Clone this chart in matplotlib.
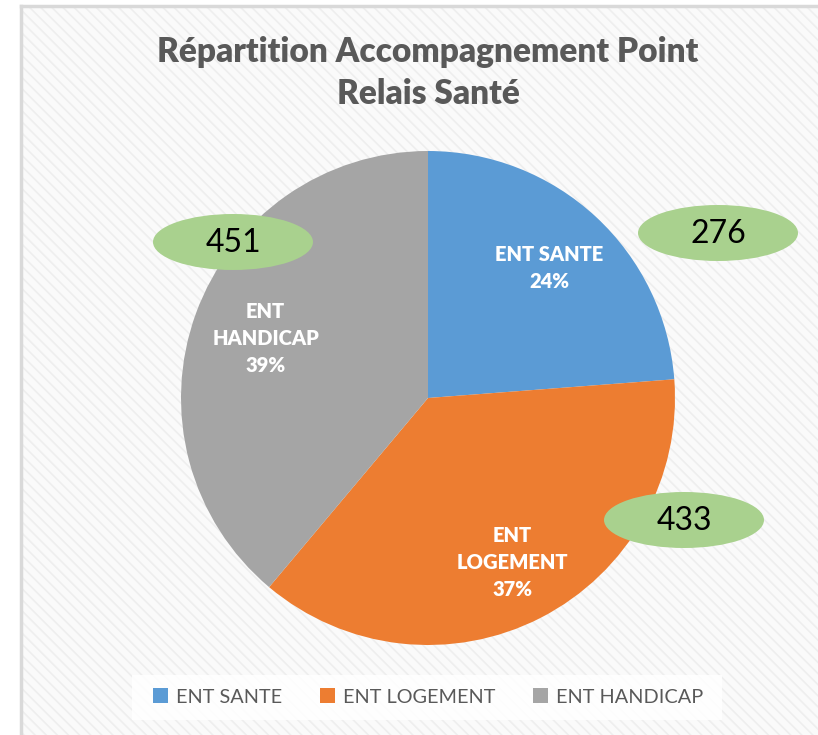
import matplotlib
matplotlib.use("Agg")
import matplotlib.pyplot as plt
from matplotlib.patches import Ellipse, Rectangle
import numpy as np

# ---- data ----
categories = ["ENT SANTE", "ENT LOGEMENT", "ENT HANDICAP"]
slice_labels = ["ENT SANTE", "ENT\nLOGEMENT", "ENT\nHANDICAP"]
values = [276, 433, 451]
colors = ["#5B9BD5", "#ED7D31", "#A5A5A5"]
title = "Répartition Accompagnement Point\nRelais Santé"

# layout (pixel positions of the moved value callouts)
callout_pos = [(718, 233), (684, 520), (233, 242)]

W, H = 818, 735
plt.rcParams['font.family'] = ['Lato', 'DejaVu Sans']
plt.rcParams['hatch.linewidth'] = 1.2
plt.rcParams['hatch.color'] = '#eeeeee'

fig = plt.figure(figsize=(W / 100, H / 100), dpi=100)
fig.patch.set_facecolor('white')
ax = fig.add_axes([0, 0, 1, 1])

def Y(y):
    return H - y

# chart area background with subtle hatch
ax.add_patch(Rectangle((21, -10), W, Y(6) + 10, facecolor='#fafafa',
                       edgecolor='#eeeeee', hatch='\\\\\\', linewidth=0, zorder=0))
ax.plot([21, W + 5], [Y(6), Y(6)], color='#d9d9d9', lw=2.5, zorder=1)
ax.plot([21, 21], [Y(6), -5], color='#d9d9d9', lw=2.5, zorder=1)

cx, cy, r = 428, Y(398), 247
wedges, _ = ax.pie(values, colors=colors, startangle=90, counterclock=False,
                   center=(cx, cy), radius=r, frame=True,
                   wedgeprops=dict(linewidth=0))
ax.set_xlim(0, W)
ax.set_ylim(0, H)
ax.set_aspect('equal')
ax.axis('off')

total = sum(values)
dists = [0.72, 0.75, 0.70]
for w, lab, v, d in zip(wedges, slice_labels, values, dists):
    ang = np.deg2rad((w.theta1 + w.theta2) / 2)
    x = cx + d * r * np.cos(ang)
    y = cy + d * r * np.sin(ang)
    ax.text(x, y, f"{lab}\n{round(100 * v / total)}%", ha='center', va='center',
            color='white', fontsize=14.5, fontweight='heavy', linespacing=1.5,
            zorder=5)

for (px, py), v in zip(callout_pos, values):
    ax.add_patch(Ellipse((px, Y(py)), 160, 56, facecolor='#A9D18E',
                         edgecolor='none', zorder=6))
    ax.text(px, Y(py) - 1, str(v), ha='center', va='center', fontsize=23,
            color='black', zorder=7)

ax.text(428, Y(73), title, ha='center', va='center', fontsize=24,
        fontweight='heavy', color='#595959', linespacing=1.35, zorder=5)

# legend
ax.add_patch(Rectangle((132, Y(720)), 590, 45, facecolor='white',
                       edgecolor='none', alpha=0.85, zorder=4))
leg = ax.legend(wedges, categories, loc='center', bbox_to_anchor=(428 / W, 1 - 697 / H),
                ncol=3, frameon=False, fontsize=14.3, handlelength=0.75,
                handleheight=0.75, handletextpad=0.4, columnspacing=1.9,
                labelcolor='#595959')
leg.set_zorder(6)

fig.savefig("out.png", dpi=100, facecolor='white')
